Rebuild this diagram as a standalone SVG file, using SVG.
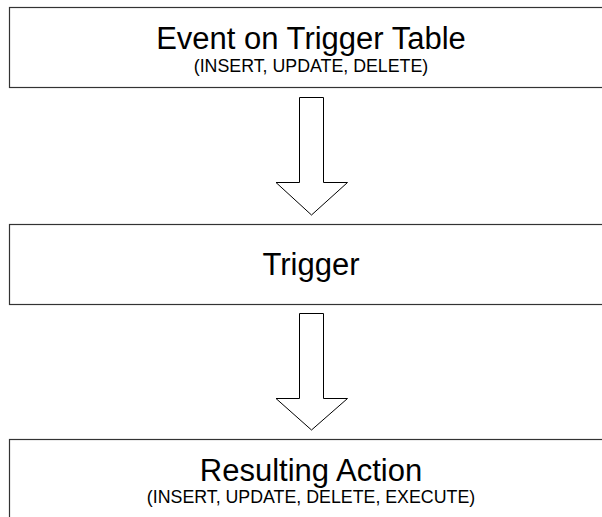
<svg xmlns="http://www.w3.org/2000/svg" width="602" height="517" viewBox="0 0 602 517">
<style>
.box{fill:#fff;stroke:#333;stroke-width:1.2}
.arr{fill:#fff;stroke:#000;stroke-width:1}
.t{font-family:"Liberation Sans",Arial,sans-serif;fill:#000;text-anchor:middle}
.big{font-size:31px}
.small{font-size:17.8px}
</style>
<rect width="602" height="517" fill="#fff"/>
<g id="event">
<rect class="box" x="9.5" y="7.5" width="610" height="80"/>
<text class="t big" x="311" y="49">Event on Trigger Table</text>
<text class="t small" x="311" y="72">(INSERT, UPDATE, DELETE)</text>
</g>
<g id="trigger">
<rect class="box" x="9.5" y="224.5" width="610" height="80"/>
<text class="t big" x="311" y="275">Trigger</text>
</g>
<g id="action">
<rect class="box" x="9.5" y="439.5" width="610" height="100"/>
<text class="t big" x="311" y="481">Resulting Action</text>
<text class="t small" x="311" y="503">(INSERT, UPDATE, DELETE, EXECUTE)</text>
</g>
<g id="connectors">
<polygon class="arr" points="299.5,97.5 323.5,97.5 323.5,182.5 347.5,182.5 311.5,215 276,182.5 299.5,182.5"/>
<polygon class="arr" points="299.5,313.5 323.5,313.5 323.5,398.5 347.5,398.5 311.5,430 276,398.5 299.5,398.5"/>
</g>
</svg>
